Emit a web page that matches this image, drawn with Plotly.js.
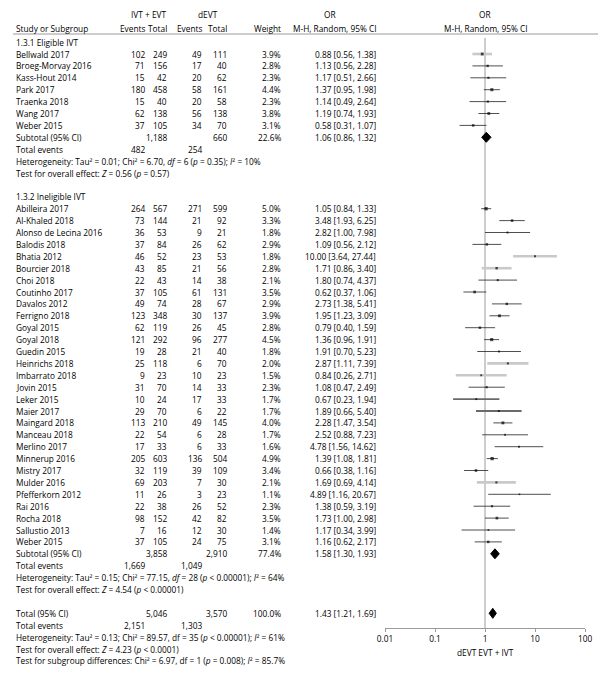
<!DOCTYPE html>
<html><head><meta charset="utf-8">
<script src="https://cdn.plot.ly/plotly-3.0.1.min.js"></script>
<style>html,body{margin:0;padding:0;background:#fff}</style>
</head><body><div id="chart" style="width:600px;height:678px"></div>
<script>
// ---------- DATA ----------
const subgroupNames = ['1.3.1 Eligible IVT', '1.3.2 Ineligible IVT'];

const studies1 = ['Bellwald 2017','Broeg-Morvay 2016','Kass-Hout 2014','Park 2017','Traenka 2018','Wang 2017','Weber 2015'];
const ivtEvents1 = [102, 71, 15, 180, 15, 62, 37];
const ivtTotal1  = [249, 156, 42, 458, 40, 138, 105];
const devtEvents1 = [49, 17, 20, 58, 20, 56, 34];
const devtTotal1  = [111, 40, 62, 161, 58, 138, 70];
const weight1 = [3.9, 2.8, 2.3, 4.4, 2.3, 3.8, 3.1];
const or1 = [0.88, 1.13, 1.17, 1.37, 1.14, 1.19, 0.58];
const lo1 = [0.56, 0.56, 0.51, 0.95, 0.49, 0.74, 0.31];
const hi1 = [1.38, 2.28, 2.66, 1.98, 2.64, 1.93, 1.07];

const studies2 = ['Abilleira 2017','Al-Khaled 2018','Alonso de Lecina 2016','Balodis 2018','Bhatia 2012','Bourcier 2018','Choi 2018','Coutinho 2017','Davalos 2012','Ferrigno 2018','Goyal 2015','Goyal 2018','Guedin 2015','Heinrichs 2018','Imbarrato 2018','Jovin 2015','Leker 2015','Maier 2017','Maingard 2018','Manceau 2018','Merlino 2017','Minnerup 2016','Mistry 2017','Mulder 2016','Pfefferkorn 2012','Rai 2016','Rocha 2018','Sallustio 2013','Weber 2015'];
const ivtEvents2 = [264, 73, 36, 37, 46, 43, 22, 37, 49, 123, 62, 121, 19, 25, 9, 31, 10, 29, 113, 22, 17, 205, 32, 69, 11, 22, 98, 7, 37];
const ivtTotal2  = [567, 144, 53, 84, 52, 85, 43, 105, 74, 348, 119, 292, 28, 118, 23, 70, 24, 70, 210, 54, 33, 603, 119, 203, 26, 38, 152, 16, 105];
const devtEvents2 = [271, 21, 9, 26, 23, 21, 14, 61, 28, 30, 26, 96, 21, 6, 10, 14, 17, 6, 49, 6, 6, 136, 39, 7, 3, 26, 42, 12, 24];
const devtTotal2  = [599, 92, 21, 62, 53, 56, 38, 131, 67, 137, 45, 277, 40, 70, 23, 33, 33, 22, 145, 28, 33, 504, 109, 30, 23, 52, 82, 30, 75];
const weight2 = [5.0, 3.3, 1.8, 2.9, 1.8, 2.8, 2.1, 3.5, 2.9, 3.9, 2.8, 4.5, 1.8, 2.0, 1.5, 2.3, 1.7, 1.7, 4.0, 1.7, 1.6, 4.9, 3.4, 2.1, 1.1, 2.3, 3.5, 1.4, 3.1];
const or2 = [1.05, 3.48, 2.82, 1.09, 10.00, 1.71, 1.80, 0.62, 2.73, 1.95, 0.79, 1.36, 1.91, 2.87, 0.84, 1.08, 0.67, 1.89, 2.28, 2.52, 4.78, 1.39, 0.66, 1.69, 4.89, 1.38, 1.73, 1.17, 1.16];
const lo2 = [0.84, 1.93, 1.00, 0.56, 3.64, 0.86, 0.74, 0.37, 1.38, 1.23, 0.40, 0.96, 0.70, 1.11, 0.26, 0.47, 0.23, 0.66, 1.47, 0.88, 1.56, 1.08, 0.38, 0.69, 1.16, 0.59, 1.00, 0.34, 0.62];
const hi2 = [1.33, 6.25, 7.98, 2.12, 27.44, 3.40, 4.37, 1.06, 5.41, 3.09, 1.59, 1.91, 5.23, 7.39, 2.71, 2.49, 1.94, 5.40, 3.54, 7.23, 14.62, 1.81, 1.16, 4.14, 20.67, 3.19, 2.98, 3.99, 2.17];

const subIvtTotal = [1188, 3858];
const subDevtTotal = [660, 2910];
const subWeight = [22.6, 77.4];
const subIvtEvents = [482, 1669];
const subDevtEvents = [254, 1049];
const subOR = [1.06, 1.58];
const subLo = [0.86, 1.30];
const subHi = [1.32, 1.93];
const subHet = [
  'Heterogeneity: Tau² = 0.01; Chi² = 6.70, <i>df</i> = 6 (<i>p</i> = 0.35); <i>I</i>² = 10%',
  'Heterogeneity: Tau² = 0.15; Chi² = 77.15, <i>df</i> = 28 (<i>p</i> < 0.00001); <i>I</i>² = 64%'
];
const subTest = [
  'Test for overall effect: <i>Z</i> = 0.56 (<i>p</i> = 0.57)',
  'Test for overall effect: <i>Z</i> = 4.54 (<i>p</i> < 0.00001)'
];

const totIvtTotal = 5046, totDevtTotal = 3570, totWeight = 100.0;
const totIvtEvents = 2151, totDevtEvents = 1303;
const totOR = 1.43, totLo = 1.21, totHi = 1.69;
const totHet = 'Heterogeneity: Tau² = 0.13; Chi² = 89.57, df = 35 (<i>p</i> < 0.00001); <i>I</i>² = 61%';
const totTest = 'Test for overall effect: <i>Z</i> = 4.23 (<i>p</i> < 0.0001)';
const subDiffTest = 'Test for subgroup differences: Chi² = 6.97, df = 1 (<i>p</i> = 0.008); <i>I</i>² = 85.7%';

const axisTicks = [0.01, 0.1, 1, 10, 100];
const axisTickText = ['0.01', '0.1', '1', '10', '100'];
const axisLabel = 'dEVT EVT + IVT';

// styling of CI lines (visual appearance in reference)
const lightGrayCI = ['Bellwald 2017','Bhatia 2012','Bourcier 2018','Heinrichs 2018','Imbarrato 2018','Mulder 2016'];
const darkGrayCI = ['Leker 2015','Maier 2017'];

// ---------- LAYOUT HELPERS ----------
const W = 600, H = 678;
const step = 11.9, y0 = 54;
const yOf = i => y0 + i * step;
const X = {name: 14, ivtE: 147, ivtT: 169, dE: 204, dT: 229, w: 283, or: 378, plot: 485};
const fam = '"Open Sans", "DejaVu Sans", sans-serif';
const fs = 8.3;
const txtCol = '#000';
const fmt = n => n.toLocaleString('en-US');
const orTxt = (o, l, h) => o.toFixed(2) + ' [' + l.toFixed(2) + ', ' + h.toFixed(2) + ']';

const ann = [];
function t(x, y, text, anchor, extra) {
  ann.push(Object.assign({xref: 'paper', yref: 'y', x: x / W, y: y, text: text, showarrow: false,
    xanchor: anchor || 'left', yanchor: 'middle', font: {family: fam, size: fs, color: txtCol}}, extra || {}));
}

// headers
t(148, 14, 'IVT + EVT', 'center');
t(208, 14, 'dEVT', 'center');
t(330, 14, 'OR', 'center');
t(X.plot, 14, 'OR', 'center');
t(X.name, 28, 'Study or Subgroup', 'left');
t(X.ivtE, 28, 'Events', 'right');
t(X.ivtT, 28, 'Total', 'right');
t(X.dE, 28, 'Events', 'right');
t(X.dT, 28, 'Total', 'right');
t(X.w, 28, 'Weight', 'right');
t(334, 28, 'M-H, Random, 95% CI', 'center');
t(X.plot, 28, 'M-H, Random, 95% CI', 'center');

const groups = [
  {names: studies1, ie: ivtEvents1, it: ivtTotal1, de: devtEvents1, dt: devtTotal1, w: weight1, or: or1, lo: lo1, hi: hi1},
  {names: studies2, ie: ivtEvents2, it: ivtTotal2, de: devtEvents2, dt: devtTotal2, w: weight2, or: or2, lo: lo2, hi: hi2}
];

const ciBlack = {x: [], y: []}, ciLight = {x: [], y: []}, ciDark = {x: [], y: []};
const sq = {x: [], y: [], s: []};
const diamonds = [];

let idx = 0;
groups.forEach((g, gi) => {
  t(X.name, yOf(idx - 1), subgroupNames[gi], 'left');
  g.names.forEach((n, k) => {
    const y = yOf(idx);
    t(X.name, y, n, 'left');
    t(X.ivtE, y, String(g.ie[k]), 'right');
    t(X.ivtT, y, String(g.it[k]), 'right');
    t(X.dE, y, String(g.de[k]), 'right');
    t(X.dT, y, String(g.dt[k]), 'right');
    t(X.w, y, g.w[k].toFixed(1) + '%', 'right');
    t(X.or, y, orTxt(g.or[k], g.lo[k], g.hi[k]), 'right');
    const tgt = lightGrayCI.includes(n) ? ciLight : (darkGrayCI.includes(n) ? ciDark : ciBlack);
    tgt.x.push(g.lo[k], g.hi[k], null); tgt.y.push(y, y, null);
    sq.x.push(g.or[k]); sq.y.push(y); sq.s.push(1.2 + g.w[k] * 0.42);
    idx++;
  });
  let y = yOf(idx);
  t(X.name, y, 'Subtotal (95% CI)', 'left');
  t(X.ivtT, y, fmt(subIvtTotal[gi]), 'right');
  t(X.dT, y, fmt(subDevtTotal[gi]), 'right');
  t(X.w, y, subWeight[gi].toFixed(1) + '%', 'right');
  t(X.or, y, orTxt(subOR[gi], subLo[gi], subHi[gi]), 'right');
  diamonds.push({o: subOR[gi], l: subLo[gi], h: subHi[gi], y: y});
  idx++;
  y = yOf(idx);
  t(X.name, y, 'Total events', 'left');
  t(X.ivtE, y, fmt(subIvtEvents[gi]), 'right');
  t(X.dE, y, fmt(subDevtEvents[gi]), 'right');
  idx++;
  t(X.name, yOf(idx), subHet[gi], 'left'); idx++;
  t(X.name, yOf(idx), subTest[gi], 'left'); idx++;
  idx += 2; // blank + next header
});
idx -= 1;
let yT = yOf(idx);
t(X.name, yT, 'Total (95% CI)', 'left');
t(X.ivtT, yT, fmt(totIvtTotal), 'right');
t(X.dT, yT, fmt(totDevtTotal), 'right');
t(X.w, yT, totWeight.toFixed(1) + '%', 'right');
t(X.or, yT, orTxt(totOR, totLo, totHi), 'right');
diamonds.push({o: totOR, l: totLo, h: totHi, y: yT});
idx++;
t(X.name, yOf(idx), 'Total events', 'left');
t(X.ivtE, yOf(idx), fmt(totIvtEvents), 'right');
t(X.dE, yOf(idx), fmt(totDevtEvents), 'right');
idx++;
t(X.name, yOf(idx), totHet, 'left'); idx++;
t(X.name, yOf(idx), totTest, 'left'); idx++;
t(X.name, yOf(idx), subDiffTest, 'left');

const axisY = 628;
t(X.plot, 652, axisLabel, 'center');

// ---------- TRACES ----------
const traces = [];
traces.push({type: 'scatter', mode: 'lines', x: [1, 1], y: [38, axisY],
  line: {color: '#9a9a9a', width: 1}, hoverinfo: 'skip'});
traces.push({type: 'scatter', mode: 'lines', x: ciLight.x, y: ciLight.y, line: {color: '#c9c9c9', width: 2.6}, connectgaps: false, hoverinfo: 'skip'});
traces.push({type: 'scatter', mode: 'lines', x: ciDark.x, y: ciDark.y, line: {color: '#6a6a6a', width: 1.8}, connectgaps: false, hoverinfo: 'skip'});
traces.push({type: 'scatter', mode: 'lines', x: ciBlack.x, y: ciBlack.y, line: {color: '#222', width: 0.8}, connectgaps: false, hoverinfo: 'skip'});
traces.push({type: 'scatter', mode: 'markers', x: sq.x, y: sq.y,
  marker: {symbol: 'square', size: sq.s, color: '#000', line: {width: 0}}, hoverinfo: 'skip'});
diamonds.forEach(d => {
  traces.push({type: 'scatter', mode: 'lines', x: [d.l, d.o, d.h, d.o, d.l], y: [d.y, d.y - 5, d.y, d.y + 5, d.y],
    fill: 'toself', fillcolor: '#000', line: {color: '#000', width: 1}, hoverinfo: 'skip'});
});

const layout = {
  width: W, height: H, margin: {l: 0, r: 0, t: 0, b: 0},
  paper_bgcolor: '#fff', plot_bgcolor: 'rgba(0,0,0,0)', showlegend: false,
  xaxis: {type: 'log', domain: [385 / W, 585 / W], range: [-2, 2], anchor: 'free', position: 1 - axisY / H,
    showline: true, linecolor: '#9a9a9a', linewidth: 1, ticks: 'outside', ticklen: 3, tickcolor: '#9a9a9a',
    tickvals: axisTicks, ticktext: axisTickText, tickfont: {family: fam, size: fs, color: txtCol},
    showgrid: false, zeroline: false, fixedrange: true},
  yaxis: {range: [H, 0], domain: [0, 1], visible: false, fixedrange: true},
  annotations: ann,
  shapes: [{type: 'line', xref: 'paper', yref: 'y', x0: 13 / W, x1: 598 / W, y0: 34, y1: 34, line: {color: '#9a9a9a', width: 1}}]
};
Plotly.newPlot('chart', traces, layout, {displayModeBar: false, staticPlot: true});
</script></body></html>
